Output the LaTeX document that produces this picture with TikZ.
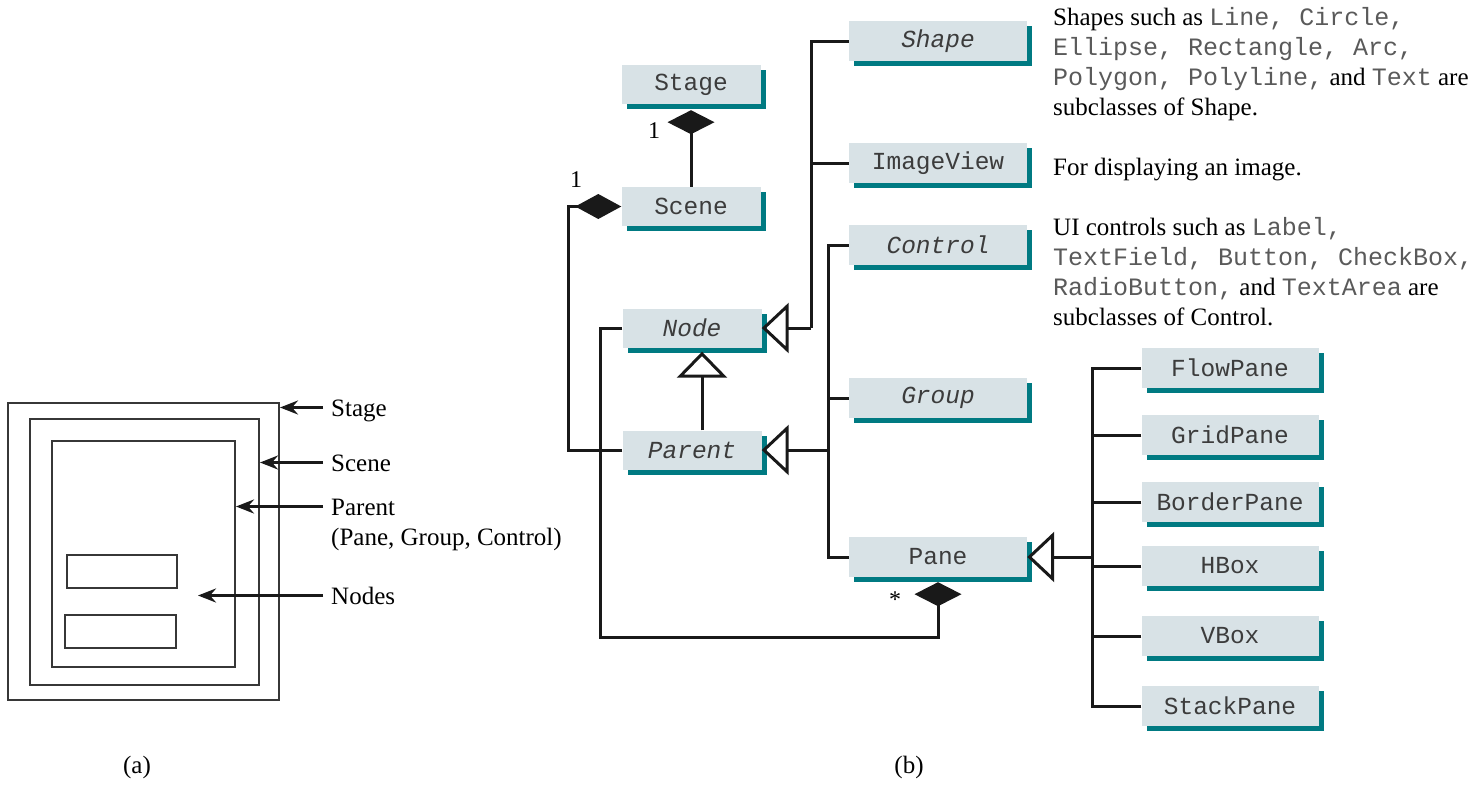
\documentclass[tikz,border=0pt]{standalone}
\usepackage{fontspec}
\setmainfont{Liberation Serif}
\newfontfamily\codefont{Liberation Mono}
\usetikzlibrary{arrows.meta,shadows,calc}
\definecolor{boxfill}{RGB}{216,226,230}
\definecolor{boxshadow}{RGB}{0,122,130}
\definecolor{boxtext}{RGB}{60,60,60}
\definecolor{codegrey}{RGB}{90,90,90}
\definecolor{linec}{RGB}{25,25,25}
\definecolor{framec}{RGB}{55,55,55}
\newcommand{\cw}[1]{{\codefont\color{codegrey}#1}}
\begin{document}
\begin{tikzpicture}[x=1pt,y=-1pt,
  umlbox/.style={rectangle, fill=boxfill, inner sep=0pt, text=boxtext,
    font=\codefont\fontsize{24.5}{28}\selectfont,
    general shadow={fill=boxshadow, shadow xshift=5pt, shadow yshift=-5pt}},
  smallbox/.style={umlbox, minimum width=139pt, minimum height=39pt},
  widebox/.style={umlbox, minimum width=178pt, minimum height=40pt},
  conn/.style={draw=linec, line width=3pt, line join=miter},
  inhh/.style={conn, -{Triangle[open, length=27pt, width=50pt]}},
  inhv/.style={conn, -{Triangle[open, length=26pt, width=50pt]}},
  comph/.style={conn, -{Diamond[length=46pt, width=25pt]}},
  compv/.style={conn, -{Diamond[length=24pt, width=47pt]}},
  frame/.style={draw=framec, line width=2pt, inner sep=0pt},
  arr/.style={draw=linec, line width=3pt, -{Stealth[length=18pt, width=14pt, inset=6pt]}},
  lbl/.style={inner xsep=8pt, inner ysep=0pt, text height=17pt, text depth=0pt,
    anchor=base west, font=\fontsize{25}{30}\selectfont},
  desc/.style={inner sep=0pt, anchor=base west, align=left, font=\fontsize{25}{30}\selectfont},
  mult/.style={inner sep=0pt, anchor=base, font=\fontsize{24}{28}\selectfont},
  capt/.style={inner sep=0pt, font=\fontsize{25}{30}\selectfont}]
\useasboundingbox (0,0) rectangle (1480,785);

% ---------- (a) ----------
\node[frame, minimum width=271pt, minimum height=297pt] (stagerect) at (143.5,551.5) {};
\node[frame, minimum width=229pt, minimum height=266pt] (scenerect) at (144.5,552) {};
\node[frame, minimum width=183pt, minimum height=226pt] (parentrect) at (143.5,554) {};
\node[frame, minimum width=110pt, minimum height=33pt] (noderect1) at (122,571.5) {};
\node[frame, minimum width=111pt, minimum height=33pt] (noderect2) at (120.5,631.5) {};

\node[lbl] (lstage) at (323,416) {Stage};
\node[lbl] (lscene) at (323,471) {Scene};
\node[lbl] (lparent) at (323,515) {Parent};
\node[lbl] (lpgc) at (323,545) {(Pane, Group, Control)};
\node[lbl] (lnodes) at (323,604) {Nodes};
\coordinate (nodestip) at (198,597);

\draw[arr] (lstage.west) -- (stagerect.east |- lstage.west);
\draw[arr] (lscene.west) -- (scenerect.east |- lscene.west);
\draw[arr] (lparent.west) -- (parentrect.east |- lparent.west);
\draw[arr] (lnodes.west) -- (nodestip |- lnodes.west);

\node[capt] (capa) at (137,767) {(a)};
\node[capt] (capb) at (909,767) {(b)};

% ---------- (b) ----------
\node[smallbox] (stage) at (691,84.5) {Stage};
\node[smallbox] (scene) at (691,206.5) {Scene};
\node[smallbox] (node) at (692,328) {\itshape Node};
\node[smallbox] (parent) at (692,450) {\itshape Parent};

\node[widebox] (shape) at (938,41) {\itshape Shape};
\node[widebox] (imageview) at (938,163) {ImageView};
\node[widebox] (control) at (938,245) {\itshape Control};
\node[widebox] (group) at (938,398) {\itshape Group};
\node[widebox] (pane) at (938,557) {Pane};

\node[widebox, minimum width=177pt] (flowpane) at (1230,368) {FlowPane};
\node[widebox, minimum width=177pt] (gridpane) at (1230,435) {GridPane};
\node[widebox, minimum width=177pt] (borderpane) at (1230,502) {BorderPane};
\node[widebox, minimum width=177pt] (hbox) at (1230,566) {HBox};
\node[widebox, minimum width=177pt] (vbox) at (1230,636) {VBox};
\node[widebox, minimum width=177pt] (stackpane) at (1230,706) {StackPane};

\coordinate (sbus) at (811,328);
\coordinate (cbus) at (828,450);
\coordinate (pbus) at (1092,557);
\coordinate (scorner) at (568,206.5);
\coordinate (ncorner) at (600,637);

% Stage <>- Scene
\draw[compv, shorten >=6pt] (scene.north) -- (stage.south);
\node[mult] (m1a) at (654,138) {1};
% Scene <>- Parent
\draw[comph] (parent.west) -| (scorner) -- (scene.west);
\node[mult] (m1b) at (576,187) {1};
% Pane <>- Node
\draw[compv, shorten >=5pt] (node.west) -| (ncorner) -| (pane.south);
\node[mult] (mstar) at (895,607) {*};

% Node <|- Parent
\draw[inhv, shorten >=4pt] ([xshift=10pt]parent.north) -- ([xshift=10pt]node.south);
% Node <|- Shape, ImageView
\draw[inhh] (sbus) -- (node.east);
\draw[conn] (shape.west) -| (sbus);
\draw[conn] (imageview.west) -- (imageview.west -| sbus);
% Parent <|- Control, Group, Pane
\draw[inhh] (cbus) -- (parent.east);
\draw[conn] (control.west) -| (cbus);
\draw[conn] (pane.west) -| (cbus);
\draw[conn] (group.west) -- (group.west -| cbus);
% Pane <|- panes
\draw[inhh] (pbus) -- (pane.east);
\draw[conn] (flowpane.west) -| (pbus);
\draw[conn] (stackpane.west) -| (pbus);
\draw[conn] (gridpane.west) -- (gridpane.west -| pbus);
\draw[conn] (borderpane.west) -- (borderpane.west -| pbus);
\draw[conn] (hbox.west) -- (hbox.west -| pbus);
\draw[conn] (vbox.west) -- (vbox.west -| pbus);

% descriptions (anchor = baseline of last line)
\node[desc] (shapetext) at (1053,115) {Shapes such as \cw{Line, Circle,}\\\cw{Ellipse, Rectangle, Arc,}\\\cw{Polygon, Polyline,} and \cw{Text} are\\subclasses of Shape.};
\node[desc] (imagetext) at (1053,175) {For displaying an image.};
\node[desc] (controltext) at (1053,325) {UI controls such as \cw{Label,}\\\cw{TextField, Button, CheckBox,}\\\cw{RadioButton,} and \cw{TextArea} are\\subclasses of Control.};
\end{tikzpicture}
\end{document}
